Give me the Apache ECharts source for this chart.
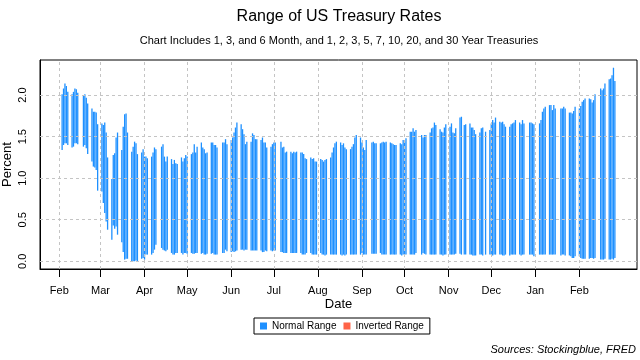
<!DOCTYPE html>
<html><head><meta charset="utf-8">
<script src="https://cdn.jsdelivr.net/npm/echarts@6/dist/echarts.min.js"></script>
<style>html,body{margin:0;padding:0;background:#fff}#c{width:640px;height:360px}</style>
</head><body><div id="c"></div>
<script>
// Monday of each trading week (values below are Mon..Fri, null = market closed)
const weekStarts = [
'2020-02-03','2020-02-10','2020-02-17','2020-02-24','2020-03-02','2020-03-09','2020-03-16','2020-03-23',
'2020-03-30','2020-04-06','2020-04-13','2020-04-20','2020-04-27','2020-05-04','2020-05-11','2020-05-18',
'2020-05-25','2020-06-01','2020-06-08','2020-06-15','2020-06-22','2020-06-29','2020-07-06','2020-07-13',
'2020-07-20','2020-07-27','2020-08-03','2020-08-10','2020-08-17','2020-08-24','2020-08-31','2020-09-07',
'2020-09-14','2020-09-21','2020-09-28','2020-10-05','2020-10-12','2020-10-19','2020-10-26','2020-11-02',
'2020-11-09','2020-11-16','2020-11-23','2020-11-30','2020-12-07','2020-12-14','2020-12-21','2020-12-28',
'2021-01-04','2021-01-11','2021-01-18','2021-01-25','2021-02-01','2021-02-08','2021-02-15','2021-02-22'];

const highs = [
2.01,2.08,2.14,2.11,2.04,  2.01,2.04,2.08,2.07,2.03,  null,2.00,2.01,1.97,1.90,  1.84,1.80,1.80,1.79,1.65,
1.66,1.64,1.67,1.55,1.25,  0.99,1.28,1.30,1.49,1.55,  1.34,1.62,1.77,1.78,1.55,  1.32,1.38,1.44,1.42,1.29,
1.31,1.35,1.26,1.26,1.24,  1.26,1.31,1.37,1.35,null,  1.38,1.41,1.26,1.20,1.26,  1.23,1.17,1.22,1.18,1.17,
1.25,1.20,1.24,1.28,1.26,  1.29,1.31,1.41,1.31,1.38,  1.43,1.37,1.35,1.30,1.31,  1.43,1.43,1.40,1.40,1.37,
null,1.43,1.43,1.47,1.41,  1.46,1.49,1.55,1.61,1.67,  1.65,1.59,1.53,1.41,1.44,  1.44,1.54,1.52,1.47,1.47,
1.46,1.49,1.43,1.43,1.37,  1.38,1.41,1.43,1.43,null,  1.44,1.37,1.38,1.31,1.32,  1.32,1.30,1.32,1.31,1.32,
1.31,1.31,1.29,1.24,1.23,  1.25,1.23,1.24,1.20,1.20,  1.23,1.22,1.20,1.22,1.23,  1.25,1.31,1.37,1.42,1.44,
1.43,1.40,1.42,1.37,1.35,  1.35,1.38,1.41,1.49,1.52,  1.49,1.43,1.37,1.34,1.46,  null,1.43,1.44,1.42,1.42,
1.42,1.43,1.44,1.43,1.44,  1.43,1.42,1.41,1.40,1.40,  1.42,1.41,1.46,1.44,1.48,  1.56,1.56,1.60,1.56,1.58,
null,1.52,1.49,1.52,1.52,  1.55,1.60,1.61,1.67,1.64,  1.59,1.56,1.55,1.61,1.65,  1.62,1.66,1.55,1.54,1.60,
1.73,1.74,null,1.64,1.65,  1.66,1.61,1.61,1.58,1.53,  1.55,1.60,1.61,null,1.56,  1.58,1.66,1.70,1.67,1.73,
1.68,1.67,1.68,1.65,1.62,  1.62,1.65,1.66,1.67,1.70,  1.67,1.65,1.70,1.66,null,  1.67,1.67,1.66,1.65,null,
1.66,1.70,1.80,1.84,1.86,  1.88,1.88,1.82,1.88,1.84,  null,1.84,1.84,1.86,1.84,  1.79,1.79,1.78,1.81,1.86,
1.84,1.87,1.92,1.94,1.96,  1.96,1.95,1.91,1.94,2.01,  null,2.08,2.06,2.08,2.14,  2.19,2.20,2.24,2.33,2.17];

const lows = [
1.34,1.40,1.42,1.42,1.40,  1.37,1.38,1.42,1.42,1.41,  null,1.38,1.40,1.36,1.29,  1.20,1.14,1.13,1.10,0.85,
0.84,0.70,0.58,0.48,0.38,  0.26,0.43,0.39,0.42,0.32,  0.23,0.11,0.02,0.03,0.03,  0.00,0.00,0.00,0.01,0.00,
0.03,0.04,0.02,0.08,0.08,  0.08,0.10,0.14,0.20,null,  0.16,0.14,0.13,0.12,0.14,  0.10,0.08,0.08,0.10,0.10,
0.10,0.08,0.10,0.10,0.09,  0.10,0.09,0.09,0.10,0.10,  0.09,0.10,0.08,0.08,0.09,  0.09,0.10,0.08,0.08,0.08,
null,0.10,0.10,0.14,0.12,  0.11,0.12,0.11,0.12,0.13,  0.14,0.14,0.13,0.14,0.14,  0.13,0.13,0.13,0.13,0.13,
0.13,0.11,0.11,0.13,0.12,  0.13,0.12,0.13,0.13,null,  0.11,0.11,0.10,0.10,0.10,  0.10,0.10,0.10,0.10,0.10,
0.10,0.08,0.08,0.08,0.10,  0.10,0.08,0.08,0.08,0.08,  0.10,0.08,0.08,0.07,0.08,  0.08,0.08,0.08,0.08,0.08,
0.08,0.07,0.08,0.07,0.08,  0.08,0.08,0.08,0.08,0.08,  0.08,0.10,0.08,0.08,0.08,  null,0.09,0.09,0.09,0.09,
0.10,0.08,0.08,0.08,0.08,  0.08,0.08,0.08,0.08,0.08,  0.08,0.07,0.08,0.08,0.08,  0.08,0.08,0.08,0.08,0.10,
null,0.08,0.10,0.09,0.08,  0.08,0.08,0.08,0.08,0.08,  0.08,0.08,0.07,0.08,0.08,  0.08,0.08,0.08,0.08,0.09,
0.09,0.08,null,0.08,0.08,  0.08,0.08,0.07,0.07,0.07,  0.08,0.08,0.07,null,0.08,  0.08,0.08,0.07,0.08,0.08,
0.08,0.08,0.07,0.07,0.08,  0.07,0.08,0.08,0.08,0.08,  0.08,0.07,0.08,0.08,null,  0.08,0.08,0.08,0.06,null,
0.08,0.08,0.08,0.08,0.08,  0.08,0.08,0.08,0.08,0.08,  null,0.07,0.08,0.08,0.07,  0.07,0.06,0.04,0.04,0.06,
0.06,0.04,0.03,0.03,0.03,  0.03,0.04,0.04,0.03,0.04,  null,0.02,0.02,0.02,0.03,  0.02,0.02,0.03,0.02,0.04];

const monthTicks = ['2020-02-01','2020-03-01','2020-04-01','2020-05-01','2020-06-01','2020-07-01','2020-08-01',
'2020-09-01','2020-10-01','2020-11-01','2020-12-01','2021-01-01','2021-02-01'];
const monthLabels = ['Feb','Mar','Apr','May','Jun','Jul','Aug','Sep','Oct','Nov','Dec','Jan','Feb'];
const yTicks = [0, 0.5, 1, 1.5, 2];
const seriesNames = ['Normal Range','Inverted Range'];

const DAY = 86400000;
function utc(s){const p=s.split('-').map(Number);return Date.UTC(p[0],p[1]-1,p[2]);}
const normal = [], inverted = [];
weekStarts.forEach((w,i)=>{
  const t0 = utc(w);
  for (let k=0;k<5;k++){
    const h = highs[i*5+k], l = lows[i*5+k];
    if (h == null) continue;
    normal.push([t0+k*DAY, l, h]);
  }
});
const tickTs = monthTicks.map(utc);
const first = normal[0][0], last = normal[normal.length-1][0];
const xpad = (last-first)*0.04;
const allV = highs.concat(lows).filter(v=>v!=null);
const vmin = Math.min(...allV), vmax = Math.max(...allV);
const ypad = (vmax-vmin)*0.04;

const FONT = 'Liberation Sans, Arial, Helvetica, sans-serif';
function renderItem(params, api){
  const x = api.value(0), lo = api.value(1), hi = api.value(2);
  const p1 = api.coord([x, hi]), p2 = api.coord([x, lo]);
  const w = 1.3;
  return {type:'rect', shape:{x:p1[0]-w/2, y:p1[1], width:w, height:Math.max(p2[1]-p1[1],1)},
          style:{fill:api.visual('color')}};
}

const chart = echarts.init(document.getElementById('c'), null, {renderer:'canvas'});
chart.setOption({
  animation:false,
  backgroundColor:'#fff',
  textStyle:{fontFamily:FONT},
  grid:{left:40, right:3, top:60, bottom:91, show:true, borderColor:'#000', borderWidth:1,
        containLabel:false, outerBoundsMode:'none'},
  xAxis:{
    type:'value', min:first-xpad, max:last+xpad,
    name:'Date', nameLocation:'middle', nameGap:29, nameMoveOverlap:false,
    nameTextStyle:{color:'#000', fontSize:13, fontFamily:FONT},
    axisLine:{show:true, onZero:false, lineStyle:{color:'#000', width:1}},
    axisTick:{show:true, length:8, lineStyle:{color:'#000'}, customValues:tickTs},
    axisLabel:{color:'#000', fontSize:11, margin:16, fontFamily:FONT, customValues:tickTs,
      formatter:function(v){const i=tickTs.indexOf(v);return i>=0?monthLabels[i]:'';}},
    splitLine:{show:false}
  },
  yAxis:{
    type:'value', min:vmin-ypad, max:vmax+ypad,
    name:'Percent', nameLocation:'middle', nameGap:26, nameMoveOverlap:false,
    nameTextStyle:{color:'#000', fontSize:13, fontFamily:FONT},
    axisLine:{show:true, lineStyle:{color:'#000'}},
    axisTick:{show:false, customValues:yTicks},
    axisLabel:{color:'#000', fontSize:11, rotate:90, margin:12, fontFamily:FONT, customValues:yTicks,
      formatter:function(v){return v.toFixed(1);}},
    splitLine:{show:false}
  },
  legend:{
    data:seriesNames, left:254, top:318, icon:'rect', itemWidth:7, itemHeight:7, itemGap:7,
    padding:[3,6,3,6], borderColor:'#000', borderWidth:1, borderRadius:0,
    textStyle:{color:'#000', fontSize:10, fontFamily:FONT}
  },
  graphic:[
    {type:'text', x:339, y:17, style:{text:'Range of US Treasury Rates', font:'16px '+FONT, fill:'#000', textAlign:'center', textVerticalAlign:'middle'}},
    {type:'text', x:339, y:41, style:{text:'Chart Includes 1, 3, and 6 Month, and 1, 2, 3, 5, 7, 10, 20, and 30 Year Treasuries', font:'11px '+FONT, fill:'#000', textAlign:'center', textVerticalAlign:'middle'}},
    {type:'text', x:636, y:350, style:{text:'Sources: Stockingblue, FRED', font:'italic 11px '+FONT, fill:'#000', textAlign:'right', textVerticalAlign:'middle'}}
  ],
  series:[
    {name:'grid', type:'line', data:[], silent:true, legendHoverLink:false,
     markLine:{silent:true, symbol:'none', label:{show:false}, lineStyle:{color:'#c4c4c4', type:[3,3], width:1},
       data: tickTs.map(t=>({xAxis:t})).concat(yTicks.map(v=>({yAxis:v}))), animation:false}},
    {name:seriesNames[0], type:'custom', renderItem:renderItem, itemStyle:{color:'#1E90FF'},
     encode:{x:0, y:[1,2]}, data:normal, clip:true, z:3},
    {name:seriesNames[1], type:'custom', renderItem:renderItem, itemStyle:{color:'#FF6347'},
     encode:{x:0, y:[1,2]}, data:inverted, clip:true, z:3}
  ]
});
</script></body></html>
